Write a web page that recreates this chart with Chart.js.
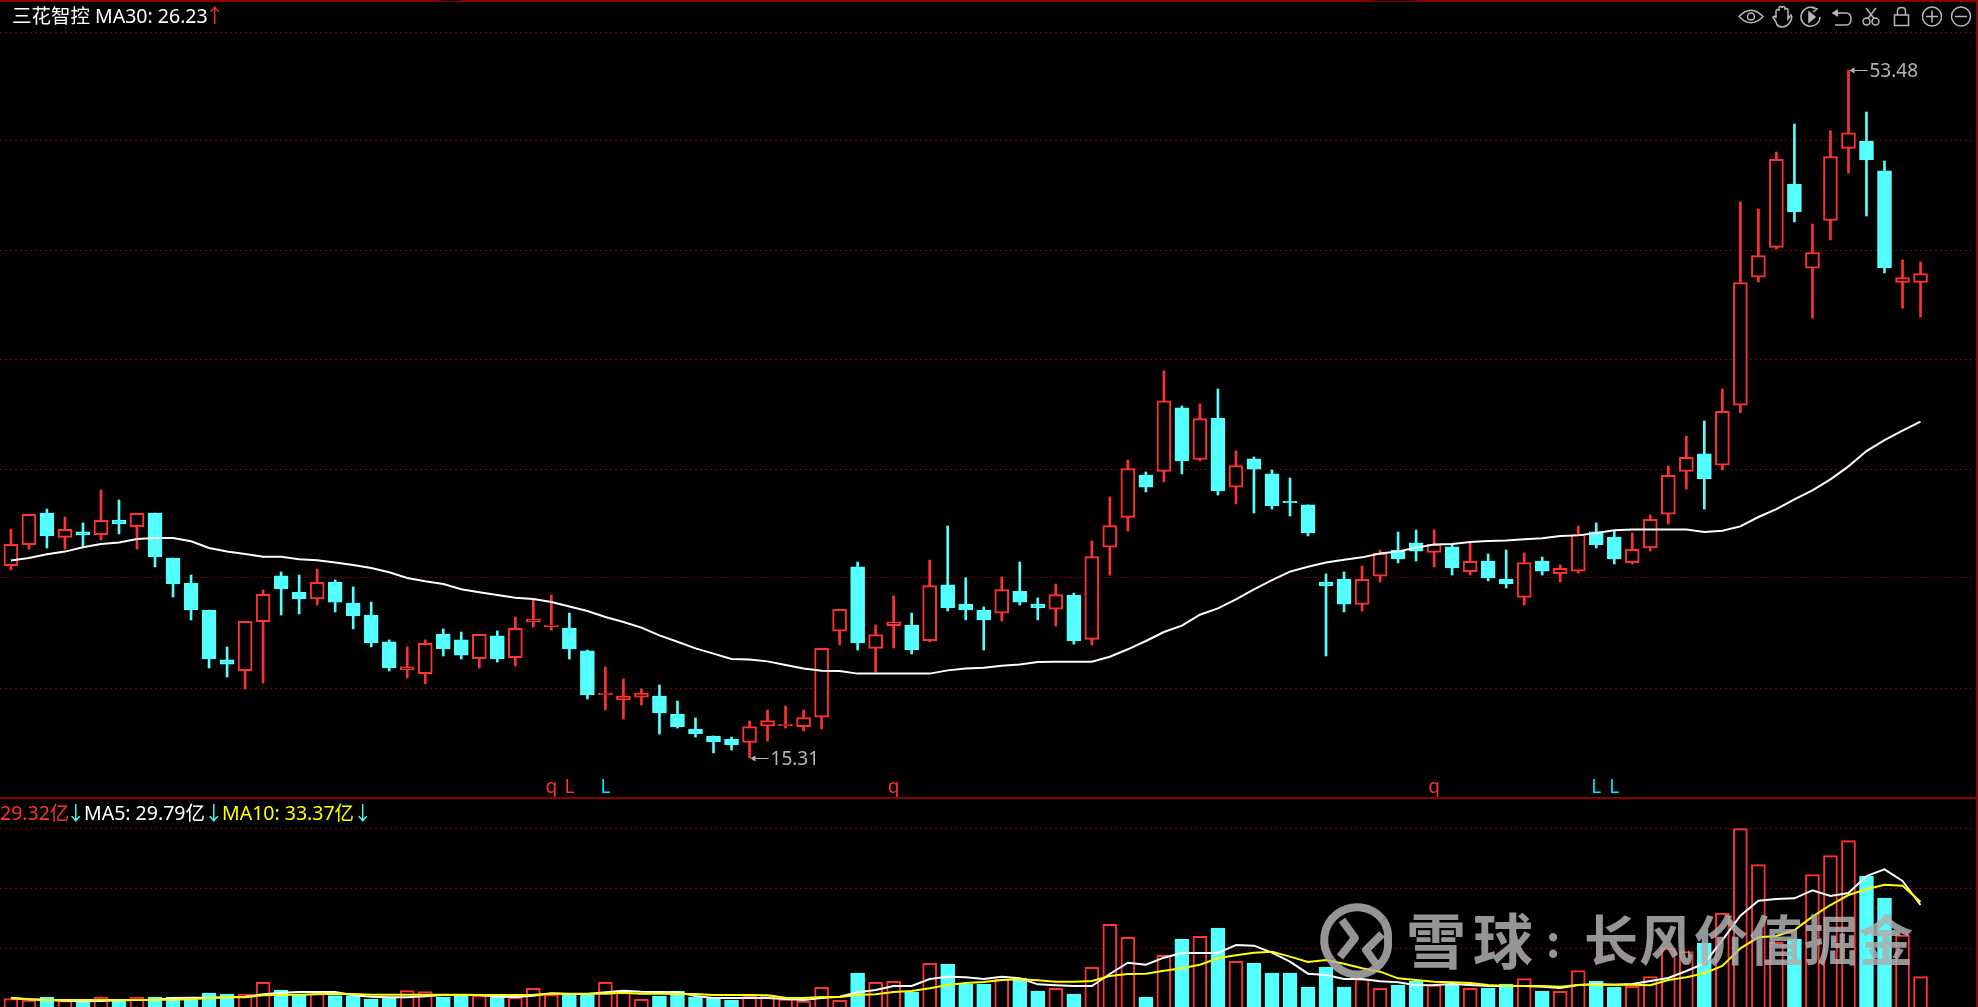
<!DOCTYPE html>
<html>
<head>
<meta charset="utf-8">
<title>三花智控</title>
<script src="https://cdn.jsdelivr.net/npm/chart.js@4/dist/chart.umd.min.js"></script>
<style>
    html, body { margin: 0; padding: 0; background: #000; overflow: hidden; }
    #stage { position: relative; width: 1978px; height: 1007px; background: #000; font-family: "Noto Sans", "Noto Sans CJK SC", sans-serif; }
    canvas { position: absolute; left: 0; }
    #priceChart { top: 0; }
    #volumeChart { top: 799px; }
    .bar { position: absolute; background: #8b0000; }
    .txt { position: absolute; white-space: pre; font-size: 19.5px; line-height: 24px; }
    .wm { position: absolute; font-family: "Noto Sans CJK SC", sans-serif; font-weight: 700; white-space: pre; color: rgba(175, 175, 175, 0.85); line-height: 76px; top: 900px; }
    svg { position: absolute; overflow: visible; }
</style>
</head>
<body>
<div id="stage">
    <canvas id="priceChart" width="1978" height="797"></canvas>
    <canvas id="volumeChart" width="1978" height="208"></canvas>

    <div class="bar" style="left:0;top:0;width:1978px;height:2px"></div>
    <div class="bar" style="left:440px;top:0;width:20px;height:1px;background:#0a0a14"></div>
    <div class="bar" style="left:1373px;top:0;width:43px;height:1px;background:#0a0a14"></div>
    <div class="bar" style="left:0;top:797px;width:1978px;height:2px"></div>
    <div class="bar" style="left:1976px;top:0;width:2px;height:1007px"></div>

    <div class="txt" style="left:12px;top:4px;color:#fff">三花智控 MA30: 26.23</div>
    <div class="txt" style="left:205px;top:4px;color:#ff3232">↑</div>

    <div class="txt" style="left:0;top:801px;color:#ff3232">29.32亿</div>
    <div class="txt" style="left:66px;top:801px;color:#54ffff">↓</div>
    <div class="txt" style="left:84px;top:801px;color:#fff">MA5: 29.79亿</div>
    <div class="txt" style="left:204px;top:801px;color:#54ffff">↓</div>
    <div class="txt" style="left:222px;top:801px;color:#ffff00">MA10: 33.37亿</div>
    <div class="txt" style="left:353px;top:801px;color:#54ffff">↓</div>

    <!-- toolbar icons -->
    <svg style="left:0;top:0" width="1978" height="40" fill="none" stroke="#b8b8b8" stroke-width="1.5">
        <path d="M1739 16.5 Q1751 4 1763 16.5 Q1751 29 1739 16.5 Z"/>
        <circle cx="1751" cy="16.5" r="3.5"/>
        <path d="M1776 18 V11 a1.5 1.5 0 0 1 3 0 V8 a1.5 1.5 0 0 1 3 0 V8 a1.5 1.5 0 0 1 3 0 V10 a1.5 1.5 0 0 1 3 0 V19 L1791 15 Q1793 17 1790 22 Q1787 27 1782 27 Q1777 27 1776 22 L1773 17 Q1775 15 1776 18"/>
        <path d="M1814 8 A9.5 9.5 0 1 0 1820 17"/>
        <path d="M1809 12 L1815 17 L1809 22 Z" fill="#b8b8b8"/>
        <path d="M1812 7 L1817 9 L1813 12"/>
        <path d="M1834 13 H1846 Q1851 13 1851 19 Q1851 25 1846 25 H1835"/>
        <path d="M1838 10 L1833 13 L1838 16" fill="#b8b8b8"/>
        <circle cx="1866.5" cy="21.5" r="3.5"/><circle cx="1875.5" cy="21.5" r="3.5"/>
        <path d="M1868 18.5 L1876 8 M1874 18.5 L1866 8"/>
        <rect x="1894.5" y="15" width="14" height="10.5"/>
        <path d="M1897.5 15 V11 Q1897.5 7.5 1901.5 7.5 Q1905.5 7.5 1905.5 11 V15"/>
        <circle cx="1932" cy="16.5" r="9.5"/><path d="M1926 16.5 H1938 M1932 10.5 V22.5"/>
        <circle cx="1961" cy="16.5" r="9.5"/><path d="M1955 16.5 H1967"/>
    </svg>

    <!-- watermark -->
    <svg style="left:0;top:0" width="1978" height="1007" fill="none" stroke="rgba(175,175,175,0.85)" stroke-width="8" stroke-linejoin="round">
        <path d="M1383 920 A31 31 0 1 0 1331 960"/>
        <path d="M1331 960 A31 31 0 0 0 1388 940 A31 31 0 0 0 1383 920"/>
        <path d="M1342 920 L1355 938 L1340 957"/>
        <path d="M1382 934 L1366 950 L1376 964"/>
    </svg>
    <div class="wm" style="left:1406px;font-size:60px;letter-spacing:7px">雪球</div>
    <div class="wm" style="left:1546px;font-size:44px">:</div>
    <div class="wm" style="left:1584px;font-size:54px;letter-spacing:1px">长风价值掘金</div>
</div>

<script>
// price panel
const opens = [25.98,27.15,28.90,27.55,27.85,27.70,28.51,28.14,28.90,26.40,25.02,23.52,20.75,20.15,22.87,25.41,24.52,24.13,25.07,23.91,23.24,21.75,20.21,19.99,22.19,21.86,20.82,22.08,20.88,22.87,22.60,22.52,21.25,18.81,18.53,18.69,18.75,17.75,16.92,16.53,16.36,16.18,17.07,17.10,17.05,17.57,22.34,25.91,21.39,22.65,22.69,21.82,24.91,23.85,23.52,23.34,24.57,23.85,23.56,24.35,21.89,27.00,28.66,31.01,31.21,34.73,31.88,34.17,30.33,31.90,31.07,29.55,29.35,25.07,25.24,23.83,25.39,26.85,27.24,26.72,27.02,25.65,26.24,25.24,24.22,26.24,25.54,25.68,27.85,27.57,26.15,26.97,28.83,31.21,32.18,31.55,34.88,41.98,43.64,47.15,42.48,45.14,49.13,49.54,47.88,41.70,41.70];
const closes = [27.16,28.83,27.63,27.99,27.68,28.49,28.29,28.88,26.46,24.96,23.52,20.80,20.52,22.89,24.39,24.69,24.13,25.06,23.96,23.19,21.69,20.30,20.36,21.67,21.36,21.02,22.17,20.80,22.50,23.02,22.69,21.36,18.81,18.91,18.75,18.91,17.81,17.03,16.64,16.20,16.03,17.05,17.38,17.18,17.55,21.39,23.56,21.69,22.15,22.87,21.30,24.87,23.63,23.52,22.97,24.65,23.96,23.63,24.37,21.80,26.48,28.20,31.36,30.34,35.13,31.79,34.14,30.12,31.53,31.34,29.29,29.48,27.79,24.85,23.85,25.22,26.66,26.35,26.79,27.16,25.85,26.22,25.30,24.96,26.15,25.68,25.83,27.72,27.13,26.35,26.89,28.55,30.99,31.99,30.79,34.54,41.68,43.18,48.52,45.60,43.35,48.67,50.00,48.49,42.50,41.96,42.18];
const highs = [28.01,28.83,29.12,28.68,28.35,30.18,29.62,28.88,28.90,26.40,25.46,23.52,21.47,22.89,24.63,25.63,25.46,25.79,25.19,24.80,23.96,21.86,21.47,21.86,22.47,22.30,22.17,22.36,23.13,24.07,24.35,23.35,21.30,20.36,19.69,19.14,19.36,18.47,17.53,16.53,16.47,17.36,17.97,18.19,17.97,21.39,23.56,26.18,22.69,24.30,23.35,26.29,28.18,25.30,23.69,25.35,26.18,24.19,24.96,24.46,27.35,29.79,31.84,31.18,36.78,34.84,34.95,35.78,32.34,32.01,31.29,30.84,29.35,25.52,25.63,25.96,26.85,27.85,27.96,27.96,27.13,27.24,26.63,26.85,26.68,26.46,26.02,28.18,28.35,27.90,27.79,28.79,31.51,33.17,34.01,35.78,46.16,45.77,48.93,50.48,44.94,50.10,53.48,51.15,48.43,42.94,42.83];
const lows = [25.74,26.90,26.96,26.90,27.02,27.40,27.74,26.90,25.91,24.24,22.96,20.30,19.80,19.14,19.47,23.24,23.30,23.80,23.41,22.47,21.47,20.14,19.75,19.42,20.97,20.80,20.30,20.63,20.41,22.58,22.41,20.80,18.58,17.97,17.47,18.25,16.64,16.97,16.47,15.59,15.75,15.31,16.25,16.97,16.81,16.92,21.58,21.30,20.08,21.41,21.08,21.75,23.47,22.97,21.30,22.91,23.80,22.97,22.63,21.63,21.58,25.46,27.90,30.07,30.62,31.07,31.79,29.90,29.40,28.90,29.12,28.74,27.63,20.97,23.41,23.46,25.07,26.13,26.24,25.91,25.46,25.46,25.13,24.74,23.80,25.46,25.07,25.57,26.96,26.07,26.07,26.79,28.29,30.23,29.12,31.29,34.47,41.72,43.55,45.05,39.72,44.05,47.76,45.38,42.22,40.27,39.78];
const ma30 = [26.26,26.41,26.61,26.76,27.00,27.18,27.27,27.46,27.51,27.51,27.33,26.96,26.77,26.63,26.48,26.48,26.33,26.28,26.16,26.02,25.85,25.61,25.30,25.11,24.96,24.67,24.50,24.35,24.20,24.13,23.96,23.71,23.46,23.13,22.85,22.54,22.11,21.76,21.39,21.10,20.80,20.78,20.67,20.47,20.28,20.15,20.14,19.99,19.99,19.99,19.99,19.99,20.17,20.28,20.32,20.43,20.49,20.64,20.65,20.65,20.65,20.93,21.34,21.80,22.30,22.65,23.26,23.61,24.11,24.67,25.18,25.65,25.92,26.15,26.31,26.44,26.65,26.76,26.98,27.15,27.18,27.29,27.35,27.37,27.44,27.50,27.63,27.66,27.79,27.94,27.98,27.98,27.98,27.98,27.85,27.92,28.16,28.68,29.12,29.66,30.16,30.77,31.49,32.34,32.95,33.47,33.97];

// volume panel (亿)
const volumes = [2.43,2.04,2.92,1.85,1.65,2.92,1.85,2.92,2.92,2.92,2.04,4.09,3.80,3.80,7.20,4.96,3.50,3.99,3.31,3.31,2.34,2.73,4.77,4.48,2.92,3.31,3.31,3.31,2.82,5.45,3.60,3.50,3.50,7.20,4.87,2.24,3.21,4.67,2.92,2.63,2.04,3.21,3.50,2.34,1.75,5.74,1.95,9.93,7.20,7.50,4.38,12.75,12.56,6.72,6.72,8.18,8.37,4.67,5.45,3.80,11.58,24.14,20.34,2.92,15.09,19.86,20.63,23.07,13.33,12.85,9.93,9.93,5.84,11.68,5.84,8.18,5.45,6.42,7.59,6.42,6.72,5.45,5.55,6.72,8.27,4.67,4.57,10.61,7.59,5.84,6.03,8.86,17.13,16.16,18.69,27.35,52.07,41.56,18.88,19.86,38.64,44.19,48.57,38.25,31.83,21.02,8.86];
const ma5 = [2.53,2.24,2.04,1.85,1.65,1.75,1.95,2.04,2.04,2.63,2.73,2.73,2.82,3.02,3.70,4.19,4.38,4.38,4.38,3.41,3.02,2.82,2.82,3.11,3.50,3.60,3.50,3.02,2.92,3.31,3.99,3.80,3.80,4.28,4.77,4.48,4.38,4.28,3.21,2.63,2.63,2.63,2.63,2.34,2.04,2.63,3.02,4.28,4.96,6.13,6.13,8.18,8.86,8.66,8.18,8.86,8.37,6.62,6.33,6.13,6.13,9.64,12.94,12.36,14.40,15.77,15.77,15.77,18.10,17.91,15.86,13.24,9.73,9.34,8.18,8.18,7.49,7.20,6.33,6.42,6.72,6.42,6.13,6.13,6.13,5.94,5.55,6.42,6.72,6.52,6.72,7.59,8.47,10.51,12.75,19.56,26.67,31.05,31.54,31.73,34.07,32.41,33.29,38.25,40.20,36.79,29.78];
const ma10 = [2.73,2.24,2.04,2.04,2.04,2.04,2.04,2.04,2.14,2.14,2.24,2.63,2.82,2.82,3.41,3.60,3.60,3.70,3.89,3.80,3.60,3.60,3.60,3.60,3.60,3.50,3.50,3.50,3.50,3.60,3.89,3.89,3.89,3.89,4.19,3.89,3.89,3.80,3.80,3.50,3.50,3.50,3.41,2.73,2.63,2.92,2.92,3.50,3.70,4.38,4.67,5.45,6.42,7.01,7.30,7.88,8.08,7.79,7.40,7.40,7.59,9.05,9.64,9.73,10.61,11.29,12.36,14.21,15.09,15.86,16.16,14.70,13.14,13.72,12.65,11.29,10.32,8.37,7.88,7.40,7.20,7.01,6.42,6.13,6.13,6.13,5.94,6.42,6.52,6.52,6.52,6.33,7.88,8.66,9.83,11.97,17.13,20.34,20.73,22.48,26.38,29.78,32.70,34.36,35.72,35.43,30.76];

// guide lines, not real ticks, the screen has no axis labels
const priceGrid = [55.56, 49.57, 43.47, 37.42, 31.34, 25.30, 19.19];
const volumeGrid = [51.98, 34.46, 16.94];

// signal letters under the candles
const markIndex = [30, 31, 33, 49, 79, 88, 89];
const markText = ['q', 'L', 'L', 'q', 'q', 'L', 'L'];
const markColor = ['#ff3232', '#ff3232', '#00e5ff', '#ff3232', '#ff3232', '#00e5ff', '#00e5ff'];

const RED = '#ff3232';
const CYAN = '#54ffff';
const GRID = '#800000';

const days = opens.map(function (_, i) { return i; });
const isUp = days.map(function (i) { return closes[i] >= opens[i]; });
const lineColor = isUp.map(function (up) { return up ? RED : CYAN; });
const fillColor = isUp.map(function (up) { return up ? '#000' : CYAN; });

function pairUp(a, b) {
    return days.map(function (i) { return [a[i], b[i]]; });
}

function panelScales(min, max, gridValues) {
    return {
        // offset off, otherwise the linear x scale gets half a tick of extra room
        x: { type: 'linear', display: false, offset: false, min: -0.605, max: 109.19 },
        y: {
            min: min,
            max: max,
            ticks: { display: false },
            border: { display: false, dash: [2, 3] },
            grid: { color: GRID, drawTicks: false },
            afterBuildTicks: function (scale) {
                scale.ticks = gridValues.map(function (v) { return { value: v }; });
            }
        }
    };
}

const baseOptions = {
    responsive: false,
    animation: false,
    devicePixelRatio: 1,
    layout: { padding: 0 },
    plugins: { legend: { display: false }, tooltip: { enabled: false } }
};

function drawFlag(ctx, chart, index, price, text) {
    const x = chart.scales.x.getPixelForValue(index);
    const y = chart.scales.y.getPixelForValue(price);
    ctx.strokeStyle = '#b4b4b4';
    ctx.fillStyle = '#b4b4b4';
    ctx.lineWidth = 1;
    ctx.beginPath();
    ctx.moveTo(x + 2, y + 0.5);
    ctx.lineTo(x + 19, y + 0.5);
    ctx.stroke();
    ctx.beginPath();
    ctx.moveTo(x + 1, y + 0.5);
    ctx.lineTo(x + 6, y - 2.5);
    ctx.lineTo(x + 6, y + 3.5);
    ctx.fill();
    ctx.font = '19px "Noto Sans"';
    ctx.textBaseline = 'middle';
    ctx.textAlign = 'left';
    ctx.fillText(text, x + 21, y + 2);
}

const labelsPlugin = {
    id: 'labels',
    afterDatasetsDraw: function (chart) {
        const ctx = chart.ctx;
        ctx.save();
        drawFlag(ctx, chart, 102, 53.48, '53.48');
        drawFlag(ctx, chart, 41, 15.31, '15.31');
        ctx.font = '19px "Noto Sans"';
        ctx.textAlign = 'center';
        ctx.textBaseline = 'alphabetic';
        markIndex.forEach(function (idx, i) {
            ctx.fillStyle = markColor[i];
            ctx.fillText(markText[i], chart.scales.x.getPixelForValue(idx), 793);
        });
        ctx.restore();
    }
};

new Chart(document.getElementById('priceChart'), {
    type: 'bar',
    data: {
        labels: days,
        datasets: [
            {
                type: 'line',
                data: ma30,
                borderColor: '#fff',
                borderWidth: 2,
                pointRadius: 0,
                tension: 0,
                order: 1
            },
            {
                data: pairUp(opens, closes),
                backgroundColor: fillColor,
                borderColor: lineColor,
                borderWidth: 2,
                borderSkipped: false,
                barThickness: 14,
                grouped: false,
                order: 2
            },
            {
                data: pairUp(lows, highs),
                backgroundColor: lineColor,
                borderWidth: 0,
                barThickness: 2,
                grouped: false,
                order: 3
            }
        ]
    },
    options: Object.assign({}, baseOptions, { scales: panelScales(13.145, 57.363, priceGrid) }),
    plugins: [labelsPlugin]
});

new Chart(document.getElementById('volumeChart'), {
    type: 'bar',
    data: {
        labels: days,
        datasets: [
            {
                type: 'line',
                data: ma10,
                borderColor: '#ffff00',
                borderWidth: 2,
                pointRadius: 0,
                tension: 0,
                order: 1
            },
            {
                type: 'line',
                data: ma5,
                borderColor: '#fff',
                borderWidth: 2,
                pointRadius: 0,
                tension: 0,
                order: 2
            },
            {
                data: volumes,
                backgroundColor: fillColor,
                borderColor: lineColor,
                borderWidth: 2,
                borderSkipped: 'bottom',
                barThickness: 14,
                order: 3
            }
        ]
    },
    options: Object.assign({}, baseOptions, { scales: panelScales(0, 60.74, volumeGrid) })
});
</script>
</body>
</html>
